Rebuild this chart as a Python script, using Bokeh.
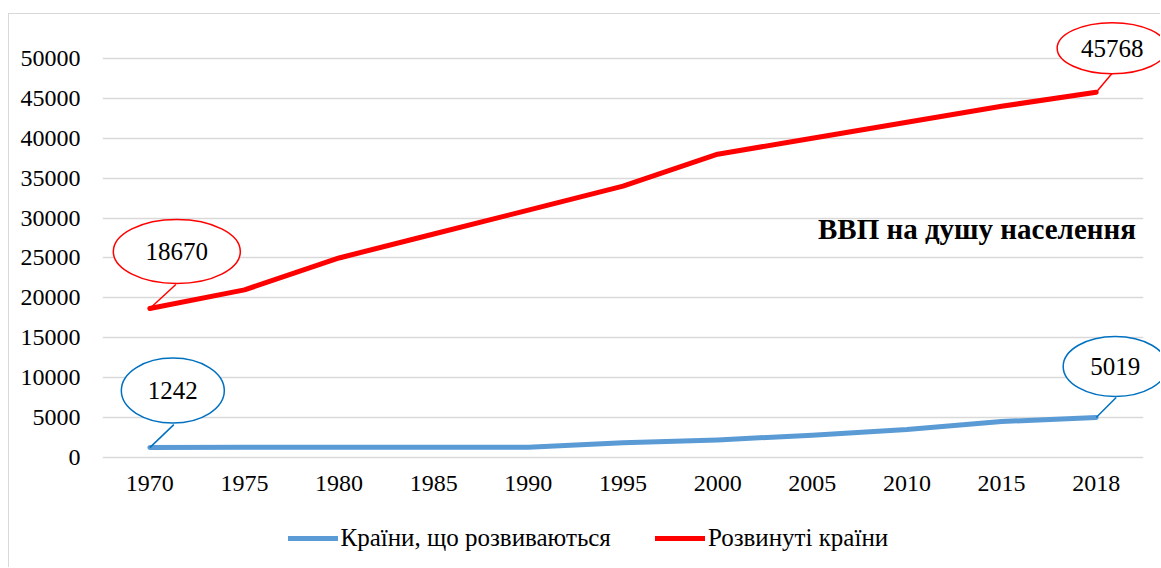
from bokeh.plotting import figure
from bokeh.layouts import column
from bokeh.models import Range1d, FixedTicker, Legend, LegendItem, Label
from bokeh.core.properties import value
from bokeh.embed import file_html
from bokeh.resources import INLINE

# ---------------- data ----------------
years = ["1970", "1975", "1980", "1985", "1990", "1995", "2000", "2005", "2010", "2015", "2018"]
developing = [1242, 1300, 1300, 1300, 1300, 1850, 2200, 2800, 3500, 4500, 5019]
developed = [18670, 21000, 25000, 28000, 31000, 34000, 38000, 40000, 42000, 44000, 45768]
y_ticks = [0, 5000, 10000, 15000, 20000, 25000, 30000, 35000, 40000, 45000, 50000]
series_names = ["Країни, що розвиваються", "Розвинуті країни"]
title_text = "ВВП на душу населення"

# ---------------- style ----------------
FONT = "Liberation Serif"
BLUE = "#5B9BD5"
BLUE_DARK = "#0070C0"
RED = "#FF0000"
GRID = "#D9D9D9"

FRAME_W, FRAME_H = 1041, 443
X0, X1 = -0.5, len(years) - 0.5
Y0, Y1 = -500, 55000
px_x = FRAME_W / (X1 - X0)          # pixels per x unit
u_y = (Y1 - Y0) / FRAME_H           # data units per pixel in y

xs = list(range(len(years)))

p = figure(frame_width=FRAME_W, frame_height=FRAME_H,
           x_range=Range1d(X0, X1), y_range=Range1d(Y0, Y1),
           output_backend="svg", toolbar_location=None,
           min_border_left=93, min_border_right=17, min_border_top=4, min_border_bottom=50)
p.background_fill_color = "white"
p.border_fill_color = "white"
p.outline_line_color = None

# axes
p.xaxis.ticker = FixedTicker(ticks=xs)
p.xaxis.major_label_overrides = {i: y for i, y in enumerate(years)}
p.yaxis.ticker = FixedTicker(ticks=y_ticks)
for ax in (p.xaxis[0], p.yaxis[0]):
    ax.axis_line_color = None
    ax.major_tick_line_color = None
    ax.minor_tick_line_color = None
    ax.major_tick_in = 0
    ax.major_tick_out = 0
    ax.major_label_text_font = FONT
    ax.major_label_text_font_size = "24px"
    ax.major_label_text_color = "#000000"
p.yaxis.major_label_standoff = 22
p.xaxis.major_label_standoff = 14
p.yaxis.formatter.use_scientific = False

p.xgrid.grid_line_color = None
p.ygrid.grid_line_color = GRID
p.ygrid.grid_line_width = 1.5

# series
r_dev = p.line(xs, developing, line_color=BLUE, line_width=5, line_cap="round", line_join="round")
r_ad = p.line(xs, developed, line_color=RED, line_width=5, line_cap="round", line_join="round")

# callouts: (series values, index, color, center dx/dy px, ellipse w/h px, pointer dx/dy px)
callouts = [
    (developed, 0, RED, 27, 57, 127, 64, 26, 24),
    (developing, 0, BLUE_DARK, 23, 57, 103, 65, 24, 23),
    (developed, len(years) - 1, RED, 16, 44, 110, 51, 16, 19),
    (developing, len(years) - 1, BLUE_DARK, 19, 51, 104, 60, 20, 20),
]
for vals, i, col, cdx, cdy, w, h, pdx, pdy in callouts:
    x = xs[i]
    y = vals[i]
    p.segment(x0=[x], y0=[y], x1=[x + pdx / px_x], y1=[y + pdy * u_y],
              line_color=col, line_width=1.5, level="overlay")
    p.ellipse(x=[x + cdx / px_x], y=[y + cdy * u_y], width=[w], height=[h],
              width_units="screen", height_units="screen",
              fill_color="white", line_color=col, line_width=1.5, level="overlay")
    p.text(x=[x + cdx / px_x], y=[y + cdy * u_y], text=[str(vals[i])],
           text_font=value(FONT), text_font_size="25px", text_color="#000000",
           text_align="center", text_baseline="middle", level="overlay")

# in-plot title
p.add_layout(Label(x=7.06, y=28600, text=title_text, text_font=FONT,
                   text_font_size="29px", text_font_style="bold",
                   text_color="#000000", text_align="left", text_baseline="alphabetic"))

# ---------------- legend strip ----------------
LEG_W, LEG_H = 1151, 56
q = figure(width=LEG_W, height=LEG_H, x_range=Range1d(X0, X1), y_range=Range1d(Y0, Y1),
           output_backend="svg", toolbar_location=None,
           min_border=0, min_border_left=0, min_border_right=0, min_border_top=0, min_border_bottom=0)
q.axis.visible = False
q.grid.grid_line_color = None
q.outline_line_color = None
q.background_fill_color = "white"
q.border_fill_color = "white"
l_dev = q.line(xs, developing, line_color=BLUE, line_width=5, line_cap="round", visible=False)
l_ad = q.line(xs, developed, line_color=RED, line_width=5, line_cap="round", visible=False)

legend = Legend(items=[LegendItem(label=series_names[0], renderers=[l_dev]),
                       LegendItem(label=series_names[1], renderers=[l_ad])],
                location=(185.5, 15), orientation="horizontal", click_policy="none",
                label_text_font=FONT, label_text_font_size="25px", label_text_color="#000000",
                glyph_width=50, glyph_height=22, label_standoff=3, spacing=44,
                padding=0, margin=0, border_line_color=None, background_fill_alpha=0)
q.add_layout(legend, "center")

layout = column(p, q, spacing=0,
                styles={"margin-left": "8px", "margin-top": "13px",
                        "border-left": "1.5px solid #D9D9D9", "border-top": "1.5px solid #D9D9D9"})

open("out.html", "w").write(file_html(layout, INLINE))
